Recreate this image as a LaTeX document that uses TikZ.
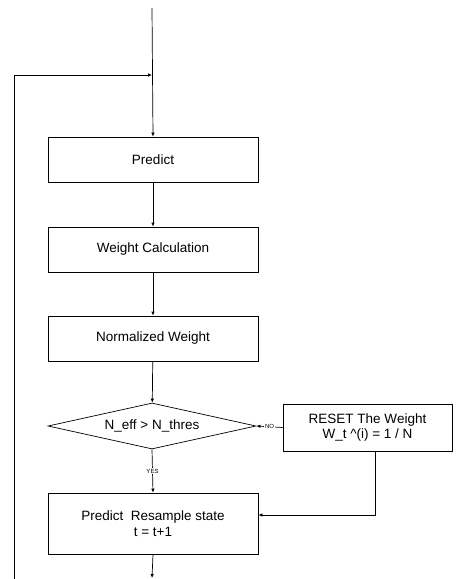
\documentclass[tikz,border=0pt]{standalone}
\usepackage{fontspec}
\setmainfont{Liberation Sans}
\usetikzlibrary{shapes.geometric,arrows.meta}
\begin{document}
\begin{tikzpicture}[x=1pt,y=-1pt,
  line width=0.7pt,
  box/.style={draw,rectangle,minimum width=210pt,minimum height=45pt,inner sep=0pt,font=\fontsize{13.5pt}{16pt}\selectfont,align=center},
  dec/.style={draw,diamond,aspect=4.5,minimum width=208pt,minimum height=46pt,inner sep=0pt,font=\fontsize{13.5pt}{16pt}\selectfont},
  arr/.style={-{Latex[length=4pt,width=3.5pt]}},
  lbl/.style={fill=white,inner sep=1pt,font=\fontsize{6pt}{7pt}\selectfont}]
\useasboundingbox (0,0) rectangle (457,579);
\node[box] (predict) at (153,159.5) {Predict};
\node[box] (weight) at (153,249.5) {Weight Calculation};
\node[box] (norm) at (153,338.5) {Normalized Weight};
\node[dec] (dec) at (152,426) {N\_eff > N\_thres};
\node[box,minimum width=169pt,minimum height=47pt] (reset) at (367.5,427.5) {RESET The Weight\\W\_t \textasciicircum(i) = 1 / N};
\node[box,minimum height=61pt] (resample) at (153,523.5) {Predict\ \ Resample state\\t = t+1};
\coordinate (top) at (152,8);
\coordinate (join) at (152,75);
\coordinate (bot) at (152,578);
\coordinate (lb) at (14,579);
\draw[arr] (top) -- (predict.north);
\draw[arr] (lb) -- (14,75) -- (join);
\draw[arr] (predict) -- (weight);
\draw[arr] (weight) -- (norm);
\draw[arr] (norm) -- (dec);
\draw[arr] (reset.west) -- node[lbl] {NO} (dec.east);
\draw[arr] (dec.south) -- node[lbl,pos=0.5] {YES} (resample.north);
\draw[arr] ([xshift=7.5pt]reset.south) |- ([yshift=8.5pt]resample.east);
\draw[arr] (resample.south) -- (bot);
\end{tikzpicture}
\end{document}
